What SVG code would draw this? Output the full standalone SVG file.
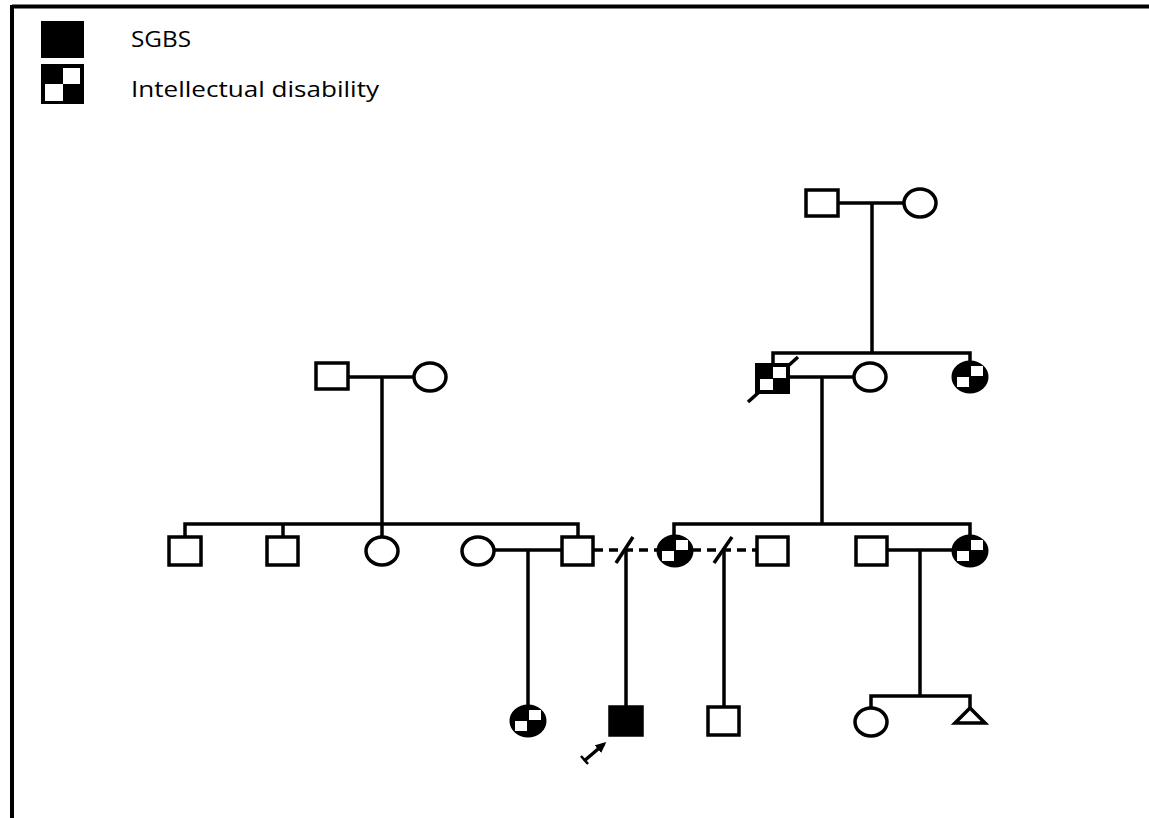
<svg xmlns="http://www.w3.org/2000/svg" width="1149" height="818" viewBox="0 0 1149 818">
  <style>
    .ln { stroke: #000; stroke-width: 3.5; fill: none; }
    .dash { stroke: #000; stroke-width: 3.5; fill: none; stroke-dasharray: 9 6; }
    .m { fill: #fff; stroke: #000; stroke-width: 3.5; }
    .f { fill: #fff; stroke: #000; stroke-width: 3.5; }
    .aff { fill: #000; stroke: #000; stroke-width: 3.5; }
    .lbl { font-family: "Open Sans", "Liberation Sans", sans-serif; font-size: 21px; fill: #000; }
  </style>
  <defs>
    <!-- checkered female: black disc with two white inset squares -->
    <g id="chkF">
      <ellipse rx="17" ry="15" fill="#000" stroke="#000" stroke-width="3"/>
      <rect x="1" y="-11" width="12" height="10" fill="#fff"/>
      <rect x="-13" y="0" width="12" height="10" fill="#fff"/>
    </g>
    <marker id="ah" markerWidth="11" markerHeight="10" refX="8" refY="5" orient="auto" markerUnits="userSpaceOnUse">
      <path d="M0,0 L11,5 L0,10 Z" fill="#000"/>
    </marker>
  </defs>

  <rect width="1149" height="818" fill="#fff"/>

  <!-- frame (top and left edges) -->
  <g id="frame">
    <line x1="12" y1="6.5" x2="1149" y2="6.5" stroke="#000" stroke-width="4"/>
    <line x1="12" y1="5" x2="12" y2="818" stroke="#000" stroke-width="4"/>
  </g>

  <!-- legend -->
  <g id="legend">
    <rect x="41" y="21" width="43" height="37" fill="#000"/>
    <g id="legend-id">
      <rect x="41" y="64" width="43" height="40" fill="#000"/>
      <rect x="63" y="68" width="17" height="16" fill="#fff"/>
      <rect x="45" y="84" width="18" height="17" fill="#fff"/>
    </g>
    <text class="lbl" x="131" y="47" textLength="60" lengthAdjust="spacingAndGlyphs">SGBS</text>
    <text class="lbl" x="131" y="97" textLength="248" lengthAdjust="spacingAndGlyphs">Intellectual disability</text>
  </g>

  <!-- connectors -->
  <g id="connectors">
    <!-- generation I, right -->
    <line class="ln" x1="838" y1="203" x2="904" y2="203"/>
    <line class="ln" x1="872" y1="203" x2="872" y2="353"/>
    <polyline class="ln" points="773,363 773,353 970,353 970,361"/>
    <!-- generation II, left -->
    <line class="ln" x1="349" y1="377" x2="414" y2="377"/>
    <line class="ln" x1="382" y1="377" x2="382" y2="524"/>
    <!-- generation II, right -->
    <line class="ln" x1="790" y1="377" x2="854" y2="377"/>
    <line class="ln" x1="822" y1="377" x2="822" y2="524"/>
    <line class="ln" x1="748" y1="402" x2="798" y2="357"/>
    <!-- generation III sibships -->
    <polyline class="ln" points="185,537 185,524 578,524 578,537"/>
    <line class="ln" x1="283" y1="524" x2="283" y2="537"/>
    <line class="ln" x1="382" y1="524" x2="382" y2="537"/>
    <polyline class="ln" points="674,537 674,524 970,524 970,537"/>
    <!-- generation III unions -->
    <line class="ln" x1="494" y1="550" x2="562" y2="550"/>
    <line class="ln" x1="528" y1="550" x2="528" y2="706"/>
    <line class="dash" x1="594" y1="550" x2="658" y2="550"/>
    <line class="ln" x1="616" y1="563" x2="633" y2="537"/>
    <line class="ln" x1="626" y1="550" x2="626" y2="707"/>
    <line class="dash" x1="692" y1="550" x2="757" y2="550"/>
    <line class="ln" x1="714" y1="563" x2="732" y2="537"/>
    <line class="ln" x1="724" y1="550" x2="724" y2="707"/>
    <line class="ln" x1="887" y1="550" x2="953" y2="550"/>
    <line class="ln" x1="920" y1="550" x2="920" y2="696"/>
    <!-- generation IV sibship -->
    <polyline class="ln" points="871,708 871,696 970,696 970,708"/>
    <!-- proband arrow -->
    <line class="ln" x1="584" y1="761" x2="604" y2="744" stroke-width="3" marker-end="url(#ah)"/>
    <line x1="581" y1="756" x2="588" y2="764" stroke="#000" stroke-width="2.5"/>
  </g>

  <!-- generation I -->
  <g id="I-1"><rect class="m" x="806" y="190" width="32" height="26"/></g>
  <g id="I-2"><ellipse class="f" cx="920" cy="203" rx="16" ry="14"/></g>

  <!-- generation II -->
  <g id="II-1"><rect class="m" x="316" y="363" width="32" height="26"/></g>
  <g id="II-2"><ellipse class="f" cx="430" cy="377" rx="16" ry="14"/></g>
  <g id="II-3">
    <rect x="755" y="363" width="35" height="31" fill="#000"/>
    <rect x="773" y="367" width="13" height="11" fill="#fff"/>
    <rect x="760" y="379" width="13" height="11" fill="#fff"/>
  </g>
  <g id="II-4"><ellipse class="f" cx="870" cy="377" rx="16" ry="14"/></g>
  <g id="II-5"><use href="#chkF" x="970" y="377"/></g>

  <!-- generation III -->
  <g id="III-1"><rect class="m" x="169" y="537" width="32" height="28"/></g>
  <g id="III-2"><rect class="m" x="267" y="537" width="31" height="28"/></g>
  <g id="III-3"><ellipse class="f" cx="382" cy="551" rx="16" ry="14"/></g>
  <g id="III-4"><ellipse class="f" cx="478" cy="551" rx="16" ry="14"/></g>
  <g id="III-5"><rect class="m" x="562" y="537" width="31" height="28"/></g>
  <g id="III-6"><use href="#chkF" x="675" y="551"/></g>
  <g id="III-7"><rect class="m" x="757" y="537" width="31" height="28"/></g>
  <g id="III-8"><rect class="m" x="856" y="537" width="31" height="28"/></g>
  <g id="III-9"><use href="#chkF" x="970" y="551"/></g>

  <!-- generation IV -->
  <g id="IV-1"><use href="#chkF" x="528" y="721"/></g>
  <g id="IV-2"><rect class="aff" x="610" y="707" width="32" height="28"/></g>
  <g id="IV-3"><rect class="m" x="708" y="707" width="31" height="28"/></g>
  <g id="IV-4"><ellipse class="f" cx="871" cy="722" rx="16" ry="14"/></g>
  <g id="IV-5"><polygon class="f" points="970,708 955,723 985,723" stroke-linejoin="miter"/></g>
</svg>
